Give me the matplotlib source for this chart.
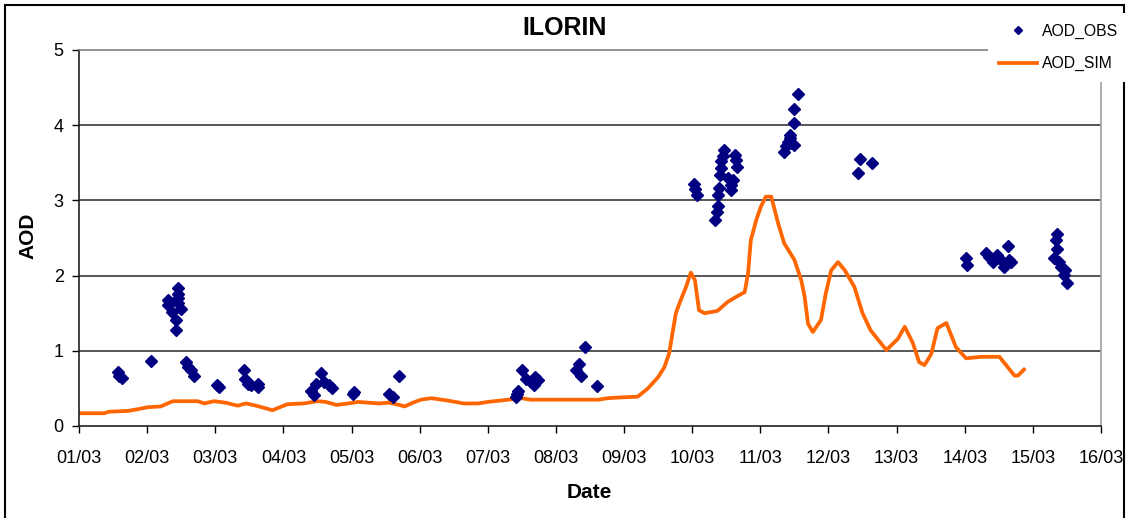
import matplotlib.pyplot as plt
from matplotlib.patches import Rectangle

plt.rcParams['font.family'] = ['Liberation Sans', 'DejaVu Sans']

# x = days since 01/03
tick_labels = ['01/03', '02/03', '03/03', '04/03', '05/03', '06/03', '07/03', '08/03',
               '09/03', '10/03', '11/03', '12/03', '13/03', '14/03', '15/03', '16/03']

obs_day = [0.57, 0.59, 0.63, 1.06, 1.46, 1.46, 1.46, 1.31, 1.31, 1.45, 1.36, 1.49, 1.42, 1.42,
           1.57, 1.60, 1.64, 1.69, 2.03, 2.06, 2.42, 2.43, 2.48, 2.52, 2.62, 2.62,
           3.41, 3.45, 3.48, 3.55, 3.60, 3.67, 3.72, 4.02, 4.04, 4.55, 4.61, 4.69,
           6.42, 6.43, 6.44, 6.50, 6.56, 6.63, 6.68, 6.70, 6.73,
           7.30, 7.34, 7.37, 7.42, 7.60,
           9.02, 9.04, 9.07, 9.34, 9.36, 9.38, 9.38, 9.39, 9.41, 9.42, 9.43, 9.45, 9.47,
           9.52, 9.57, 9.57, 9.60, 9.63, 9.64, 9.66,
           10.35, 10.38, 10.40, 10.43, 10.45, 10.50, 10.44, 10.50, 10.50, 10.56,
           11.44, 11.47, 11.64,
           13.02, 13.04, 13.31, 13.36, 13.41, 13.48, 13.53, 13.58, 13.63, 13.65, 13.68,
           14.31, 14.34, 14.35, 14.35, 14.39, 14.42, 14.45, 14.47, 14.50]
obs_aod = [0.72, 0.67, 0.64, 0.86, 1.84, 1.76, 1.70, 1.68, 1.61, 1.63, 1.52, 1.55, 1.41, 1.28,
           0.85, 0.78, 0.74, 0.67, 0.54, 0.52, 0.74, 0.63, 0.56, 0.54, 0.56, 0.52,
           0.47, 0.41, 0.56, 0.70, 0.58, 0.54, 0.50, 0.43, 0.45, 0.43, 0.38, 0.66,
           0.39, 0.43, 0.47, 0.74, 0.63, 0.58, 0.54, 0.65, 0.61,
           0.74, 0.83, 0.67, 1.05, 0.53,
           3.22, 3.15, 3.07, 2.74, 2.84, 2.92, 3.07, 3.16, 3.34, 3.43, 3.52, 3.59, 3.67,
           3.30, 3.14, 3.21, 3.27, 3.61, 3.54, 3.45,
           3.65, 3.72, 3.78, 3.83, 3.76, 3.74, 3.87, 4.03, 4.21, 4.42,
           3.36, 3.55, 3.50,
           2.23, 2.14, 2.30, 2.25, 2.18, 2.27, 2.21, 2.12, 2.39, 2.21, 2.18,
           2.23, 2.47, 2.36, 2.55, 2.18, 2.12, 2.01, 2.07, 1.90]

sim_day = [0.00, 0.37, 0.44, 0.72, 0.90, 1.01, 1.20, 1.30, 1.38, 1.74, 1.84, 1.98, 2.15, 2.33,
           2.45, 2.60, 2.72, 2.84, 2.95, 3.06, 3.30, 3.50, 3.62, 3.78, 3.95, 4.10, 4.25, 4.40,
           4.55, 4.70, 4.78, 4.90, 5.02, 5.17, 5.40, 5.65, 5.86, 6.00, 6.30, 6.49, 6.63, 7.62,
           7.76, 7.95, 8.20, 8.35, 8.50, 8.59, 8.66, 8.71, 8.76, 8.83, 8.91, 8.98, 9.04, 9.10,
           9.18, 9.37, 9.52, 9.67, 9.77, 9.82, 9.86, 9.94, 10.01, 10.08, 10.16, 10.26, 10.35,
           10.50, 10.60, 10.65, 10.70, 10.77, 10.89, 10.96, 11.04, 11.14, 11.24, 11.38, 11.50,
           11.62, 11.85, 12.02, 12.12, 12.24, 12.33, 12.41, 12.51, 12.60, 12.73, 12.87, 13.02,
           13.24, 13.51, 13.73, 13.78, 13.87]
sim_aod = [0.17, 0.17, 0.19, 0.20, 0.23, 0.25, 0.26, 0.30, 0.33, 0.33, 0.30, 0.33, 0.31, 0.27,
           0.30, 0.27, 0.24, 0.21, 0.25, 0.29, 0.30, 0.33, 0.32, 0.28, 0.30, 0.32, 0.31, 0.30,
           0.31, 0.28, 0.26, 0.31, 0.35, 0.37, 0.34, 0.30, 0.30, 0.32, 0.35, 0.37, 0.35, 0.35,
           0.37, 0.38, 0.39, 0.50, 0.65, 0.78, 0.96, 1.23, 1.50, 1.67, 1.85, 2.04, 1.94, 1.54,
           1.50, 1.53, 1.65, 1.73, 1.78, 2.03, 2.47, 2.74, 2.92, 3.05, 3.05, 2.70, 2.43,
           2.21, 1.94, 1.72, 1.36, 1.25, 1.41, 1.76, 2.07, 2.18, 2.07, 1.85, 1.50,
           1.27, 1.01, 1.16, 1.32, 1.10, 0.85, 0.81, 0.96, 1.30, 1.37, 1.05, 0.90,
           0.92, 0.92, 0.67, 0.67, 0.75]


def main():
    W, H = 1129, 518
    fig = plt.figure(figsize=(W / 100, H / 100), dpi=100)
    ax = fig.add_axes([79 / W, 1 - 426 / H, (1101 - 79) / W, (426 - 50) / H])

    for yv in [1, 2, 3, 4]:
        ax.axhline(yv, color='#3a3a3a', lw=1.2, zorder=1)

    ax.plot(sim_day, sim_aod, '-', color='#FF6600', lw=2.7, label='AOD_SIM', zorder=2,
            solid_joinstyle='round')
    ax.plot(obs_day, obs_aod, 'D', color='#000080', ms=6, mec='#000080',
            label='AOD_OBS', zorder=3, linestyle='none')

    ax.set_xlim(0, 15)
    ax.set_ylim(0, 5)
    ax.set_xticks(range(16))
    ax.set_xticklabels(tick_labels)
    ax.set_yticks(range(6))
    ax.tick_params(axis='x', length=5, width=1, pad=12, labelsize=13)
    ax.tick_params(axis='y', length=5, width=1, pad=6, labelsize=13)

    ax.spines['top'].set_color('#808080')
    ax.spines['right'].set_color('#a0a0a0')
    ax.spines['left'].set_color('#202020')
    ax.spines['bottom'].set_color('#202020')
    for s in ax.spines.values():
        s.set_linewidth(1.2)

    fig.text(565 / W, 1 - 28 / H, 'ILORIN', ha='center', va='center',
             fontsize=18, fontweight='bold')
    fig.text(27.5 / W, 1 - 236 / H, 'AOD', ha='center', va='center',
             rotation=90, fontsize=15, fontweight='bold')
    fig.text(589 / W, 1 - 492.5 / H, 'Date', ha='center', va='center',
             fontsize=15, fontweight='bold')

    handles, labels = ax.get_legend_handles_labels()
    leg = fig.legend(handles[::-1], labels[::-1], loc='upper left',
                     bbox_to_anchor=(980 / W, 1 - 5 / H), fontsize=11.3,
                     frameon=True, fancybox=False, edgecolor='none', framealpha=1,
                     handlelength=2.4, handletextpad=0.35, labelspacing=1.1,
                     borderpad=0.7, markerscale=0.75)
    leg.set_zorder(10)

    border = Rectangle((5 / W, -0.01), (1124 - 5) / W, (H - 5) / H + 0.01,
                       transform=fig.transFigure, fill=False, edgecolor='black',
                       lw=1.5, clip_on=False)
    fig.patches.append(border)

    plt.savefig('out.png', dpi=100)


if __name__ == '__main__':
    main()
